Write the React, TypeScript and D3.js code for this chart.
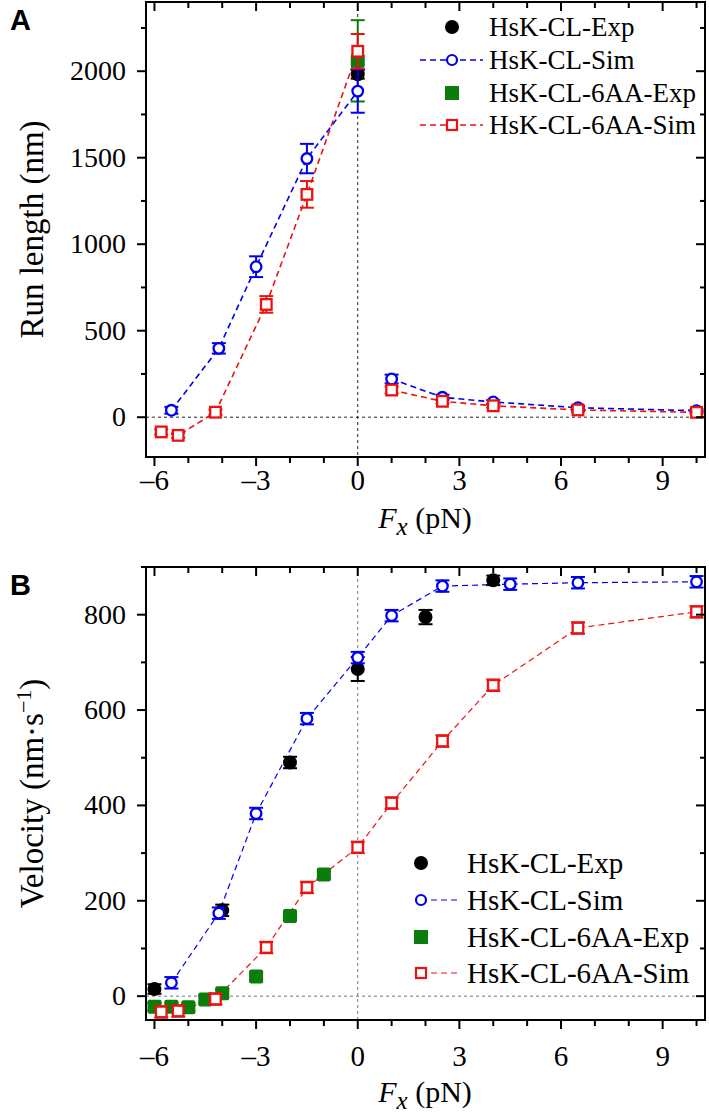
import React from "react";
import * as d3 from "d3";

// ---------- Panel A: run length ----------
const A_clExpX = [0];
const A_clExpY = [1982];
const A_clExpE = [25];

const A_clSimX = [-5.5, -4.1, -3, -1.5, 0, 1, 2.5, 4, 6.5, 10];
const A_clSimY = [40, 398, 870, 1495, 1885, 221, 115, 88, 55, 38];
const A_clSimE = [20, 30, 60, 85, 125, 25, 15, 12, 10, 8];

const A_aaExpX = [0];
const A_aaExpY = [2060];
const A_aaExpE = [235];

const A_aaSimX = [-5.8, -5.3, -4.2, -2.7, -1.5, 0, 1, 2.5, 4, 6.5, 10];
const A_aaSimY = [-85, -105, 29, 652, 1288, 2115, 157, 92, 66, 42, 28];
const A_aaSimE = [15, 15, 15, 48, 77, 100, 20, 12, 10, 10, 8];

// ---------- Panel B: velocity ----------
const B_clExpX = [-6, -4, -2, 0, 2, 4];
const B_clExpY = [15, 180, 490, 686, 795, 872];
const B_clExpE = [10, 12, 12, 25, 15, 10];

const B_clSimX = [-5.5, -4.1, -3, -1.5, 0, 1, 2.5, 4.5, 6.5, 10];
const B_clSimY = [28, 174, 383, 582, 710, 798, 860, 864, 867, 869];
const B_clSimE = [12, 12, 12, 12, 12, 12, 12, 12, 12, 12];

const B_aaExpX = [-6, -5.5, -5, -4.5, -4, -3, -2, -1];
const B_aaExpY = [-22, -22, -23, -7, 6, 41, 168, 255];
const B_aaExpE = [8, 8, 8, 8, 8, 8, 8, 8];

const B_aaSimX = [-5.8, -5.3, -4.2, -2.7, -1.5, 0, 1, 2.5, 4, 6.5, 10];
const B_aaSimY = [-33, -31, -6, 102, 228, 312, 405, 535, 652, 772, 806];
const B_aaSimE = [12, 12, 12, 12, 12, 12, 12, 12, 12, 12, 12];

const xTicks = [-6, -3, 0, 3, 6, 9];
const xMinor = d3.range(-6, 11, 1);
const yTicksA = [0, 500, 1000, 1500, 2000];
const yMinorA = d3.range(0, 2401, 250);
const yTicksB = [0, 200, 400, 600, 800];
const yMinorB = d3.range(0, 901, 100);

const legendLabels = ["HsK-CL-Exp", "HsK-CL-Sim", "HsK-CL-6AA-Exp", "HsK-CL-6AA-Sim"];

const SERIF = '"Liberation Serif", "Times New Roman", Times, "DejaVu Serif", serif';
const SANS = '"Liberation Sans", Arial, Helvetica, sans-serif';
const BLUE = "#0000ee";
const RED = "#ee1111";
const GREEN = "#0a7d0a";

type Pts = { x: number[]; y: number[]; e: number[] };

function Panel(props: {
  top: number;
  bottom: number;
  yDomain: [number, number];
  yTicks: number[];
  yMinor: number[];
  ylabel: React.ReactNode;
  letter: string;
  clExp: Pts;
  clSim: Pts;
  aaExp: Pts;
  aaSim: Pts;
  legend: { x: number; lineX0: number; lineX1: number; textX: number; ys: number[]; fs: number };
  refColor: string;
  simWidth: number;
  xLabelY: number;
  tickLabelY: number;
  splitAtZero: boolean;
}) {
  const left = 146, right = 705;
  const x = d3.scaleLinear().domain([-6.25, 10.25]).range([left, right]);
  const y = d3.scaleLinear().domain(props.yDomain).range([props.bottom, props.top]);
  const line = d3.line<[number, number]>().x((d) => x(d[0])).y((d) => y(d[1]));
  const pts = (p: Pts) => p.x.map((v, i) => [v, p.y[i]] as [number, number]);
  const segs = (p: Pts) => {
    const all = pts(p);
    if (!props.splitAtZero) return [all];
    return [all.filter((d) => d[0] <= 0), all.filter((d) => d[0] > 0)];
  };

  const errBars = (p: Pts, color: string, key: string) =>
    p.x.map((v, i) => {
      const cx = x(v);
      const y0 = y(p.y[i] - p.e[i]);
      const y1 = y(p.y[i] + p.e[i]);
      return (
        <g key={key + i} stroke={color} strokeWidth={2}>
          <line x1={cx} x2={cx} y1={y0} y2={y1} />
          <line x1={cx - 7} x2={cx + 7} y1={y0} y2={y0} />
          <line x1={cx - 7} x2={cx + 7} y1={y1} y2={y1} />
        </g>
      );
    });

  const midY = (props.top + props.bottom) / 2;
  const lg = props.legend;
  const serif = { fontFamily: SERIF };

  return (
    <g>
      <text x={10} y={props.top + 28} style={{ fontFamily: SANS, fontWeight: "bold", fontSize: 29 }}>
        {props.letter}
      </text>
      {/* reference lines */}
      <line x1={left} x2={right} y1={y(0)} y2={y(0)} stroke={props.refColor} strokeWidth={1} strokeDasharray="3,3" />
      <line x1={x(0)} x2={x(0)} y1={props.top} y2={props.bottom} stroke={props.refColor} strokeWidth={1} strokeDasharray="3,3" />

      {/* sim lines */}
      {segs(props.clSim).map((s, i) => (
        <path key={"bl" + i} d={line(s) || ""} fill="none" stroke={BLUE} strokeWidth={props.simWidth} strokeDasharray="6,4" />
      ))}
      {segs(props.aaSim).map((s, i) => (
        <path key={"rl" + i} d={line(s) || ""} fill="none" stroke={RED} strokeWidth={props.simWidth} strokeDasharray="6,4" />
      ))}

      {/* green exp */}
      {errBars(props.aaExp, GREEN, "ge")}
      {props.aaExp.x.map((v, i) => (
        <rect key={"g" + i} x={x(v) - 7} y={y(props.aaExp.y[i]) - 7} width={14} height={14} rx={2} fill={GREEN} />
      ))}
      {/* black exp */}
      {errBars(props.clExp, "#000", "be")}
      {props.clExp.x.map((v, i) => (
        <circle key={"b" + i} cx={x(v)} cy={y(props.clExp.y[i])} r={7} fill="#000" />
      ))}
      {/* blue sim */}
      {errBars(props.clSim, BLUE, "bs")}
      {props.clSim.x.map((v, i) => (
        <circle key={"c" + i} cx={x(v)} cy={y(props.clSim.y[i])} r={5.3} fill="#fff" stroke={BLUE} strokeWidth={2.3} />
      ))}
      {/* red sim */}
      {errBars(props.aaSim, RED, "rs")}
      {props.aaSim.x.map((v, i) => (
        <rect key={"r" + i} x={x(v) - 5.3} y={y(props.aaSim.y[i]) - 5.3} width={10.6} height={10.6} fill="#fff" stroke={RED} strokeWidth={2.3} />
      ))}

      {/* frame */}
      <rect x={left} y={props.top} width={right - left} height={props.bottom - props.top} fill="none" stroke="#000" strokeWidth={2} />

      {/* x ticks */}
      {xMinor.map((t) => {
        const major = xTicks.includes(t);
        const L = major ? 9 : 6;
        return (
          <g key={"xt" + t} stroke="#000" strokeWidth={2}>
            <line x1={x(t)} x2={x(t)} y1={props.bottom} y2={props.bottom + L} />
            <line x1={x(t)} x2={x(t)} y1={props.top} y2={props.top + L} />
          </g>
        );
      })}
      {xTicks.map((t) => (
        <text key={"xl" + t} x={x(t)} y={props.tickLabelY} textAnchor="middle" style={{ ...serif, fontSize: 29 }}>
          {t < 0 ? "\u2013" + Math.abs(t) : String(t)}
        </text>
      ))}
      <text x={425} y={props.xLabelY} textAnchor="middle" style={{ ...serif, fontSize: 30 }}>
        <tspan fontStyle="italic">F</tspan>
        <tspan fontStyle="italic" fontSize={25} dy={7}>x</tspan>
        <tspan dy={-7}> (pN)</tspan>
      </text>

      {/* y ticks */}
      {props.yMinor.map((t) => {
        const major = props.yTicks.includes(t);
        const L = major ? 9 : 5;
        return (
          <g key={"yt" + t} stroke="#000" strokeWidth={2}>
            <line x1={left} x2={left - L} y1={y(t)} y2={y(t)} />
            <line x1={right} x2={right - L} y1={y(t)} y2={y(t)} />
          </g>
        );
      })}
      {props.yTicks.map((t) => (
        <text key={"yl" + t} x={126} y={y(t) + 9} textAnchor="end" style={{ ...serif, fontSize: 28 }}>
          {t}
        </text>
      ))}
      <text transform={`translate(43,${midY}) rotate(-90)`} textAnchor="middle" style={{ ...serif, fontSize: 33 }}>
        {props.ylabel}
      </text>

      {/* legend */}
      <g style={{ ...serif, fontSize: lg.fs }}>
        {legendLabels.map((lab, i) => (
          <text key={"lt" + i} x={lg.textX} y={lg.ys[i] + lg.fs * 0.33}>
            {lab}
          </text>
        ))}
        <circle cx={lg.x} cy={lg.ys[0]} r={7} fill="#000" />
        <line x1={lg.lineX0} x2={lg.lineX1} y1={lg.ys[1]} y2={lg.ys[1]} stroke={BLUE} strokeWidth={props.simWidth} strokeDasharray="6,4" />
        <circle cx={lg.x} cy={lg.ys[1]} r={5} fill="#fff" stroke={BLUE} strokeWidth={2.2} />
        <rect x={lg.x - 7} y={lg.ys[2] - 7} width={14} height={14} fill={GREEN} />
        <line x1={lg.lineX0} x2={lg.lineX1} y1={lg.ys[3]} y2={lg.ys[3]} stroke={RED} strokeWidth={props.simWidth} strokeDasharray="6,4" />
        <rect x={lg.x - 5} y={lg.ys[3] - 5} width={10} height={10} fill="#fff" stroke={RED} strokeWidth={2.2} />
      </g>
    </g>
  );
}

export default function App() {
  return (
    <svg width={709} height={1120} style={{ display: "block", position: "absolute", left: 0, top: 0, background: "#fff" }}>
      <rect width={709} height={1120} fill="#fff" />
      <Panel
        top={2}
        bottom={457}
        yDomain={[-230, 2400]}
        yTicks={yTicksA}
        yMinor={yMinorA}
        ylabel={"Run length (nm)"}
        letter="A"
        clExp={{ x: A_clExpX, y: A_clExpY, e: A_clExpE }}
        clSim={{ x: A_clSimX, y: A_clSimY, e: A_clSimE }}
        aaExp={{ x: A_aaExpX, y: A_aaExpY, e: A_aaExpE }}
        aaSim={{ x: A_aaSimX, y: A_aaSimY, e: A_aaSimE }}
        legend={{ x: 452, lineX0: 420, lineX1: 483, textX: 489, ys: [27, 60, 93, 125], fs: 27 }}
        refColor="#222"
        simWidth={1.6}
        xLabelY={528}
        tickLabelY={490}
        splitAtZero={true}
      />
      <Panel
        top={567}
        bottom={1020}
        yDomain={[-50, 900]}
        yTicks={yTicksB}
        yMinor={yMinorB}
        ylabel={
          <>
            <tspan>Velocity (nm·s</tspan>
            <tspan fontSize={22} dy={-12}>−1</tspan>
            <tspan dy={12}>)</tspan>
          </>
        }
        letter="B"
        clExp={{ x: B_clExpX, y: B_clExpY, e: B_clExpE }}
        clSim={{ x: B_clSimX, y: B_clSimY, e: B_clSimE }}
        aaExp={{ x: B_aaExpX, y: B_aaExpY, e: B_aaExpE }}
        aaSim={{ x: B_aaSimX, y: B_aaSimY, e: B_aaSimE }}
        legend={{ x: 421, lineX0: 421, lineX1: 459, textX: 467, ys: [863, 900, 937, 973], fs: 29 }}
        refColor="#777"
        simWidth={1.2}
        xLabelY={1102}
        tickLabelY={1066}
        splitAtZero={false}
      />
    </svg>
  );
}
